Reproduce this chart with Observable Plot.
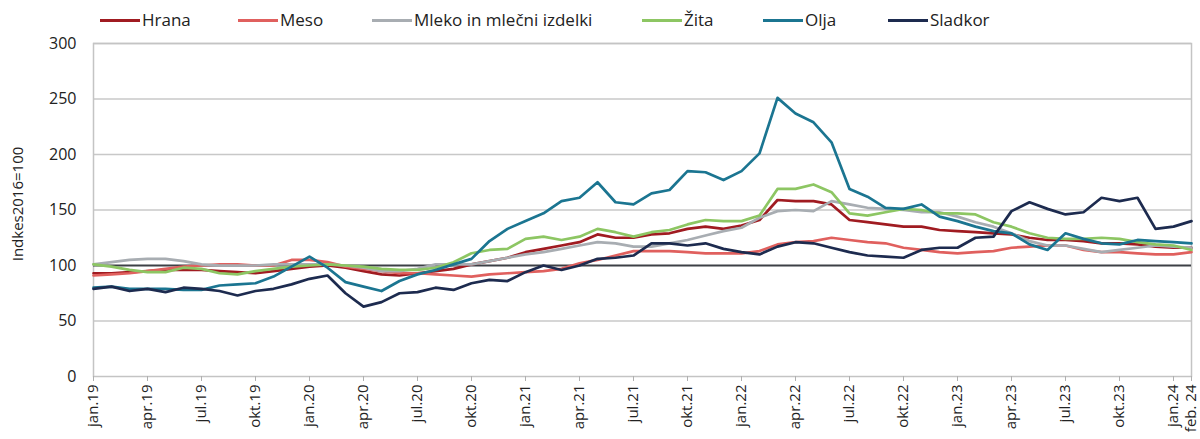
<!DOCTYPE html>
<html><head><meta charset="utf-8">
<script src="https://cdn.jsdelivr.net/npm/d3@7"></script>
<script src="https://cdn.jsdelivr.net/npm/@observablehq/plot@0.6"></script>
<style>
body{margin:0;background:#fff;font-family:"Open Sans",sans-serif;}
#legend{position:relative;height:30px;width:1200px;}
.item{position:absolute;top:7px;font-size:17px;line-height:26px;color:#222;display:flex;align-items:center;white-space:nowrap;}
.sw{display:inline-block;width:40px;height:3px;margin-right:2px;}
#chart svg{display:block;overflow:visible;}
</style></head><body>
<div id="legend"></div><div id="chart"></div>
<script>
const months = [
"jan.19","feb.19","mar.19","apr.19","maj.19","jun.19","jul.19","avg.19","sep.19","okt.19","nov.19","dec.19",
"jan.20","feb.20","mar.20","apr.20","maj.20","jun.20","jul.20","avg.20","sep.20","okt.20","nov.20","dec.20",
"jan.21","feb.21","mar.21","apr.21","maj.21","jun.21","jul.21","avg.21","sep.21","okt.21","nov.21","dec.21",
"jan.22","feb.22","mar.22","apr.22","maj.22","jun.22","jul.22","avg.22","sep.22","okt.22","nov.22","dec.22",
"jan.23","feb.23","mar.23","apr.23","maj.23","jun.23","jul.23","avg.23","sep.23","okt.23","nov.23","dec.23",
"jan.24","feb.24"];
const tickMonths = ["jan.19","apr.19","jul.19","okt.19","jan.20","apr.20","jul.20","okt.20","jan.21","apr.21","jul.21","okt.21","jan.22","apr.22","jul.22","okt.22","jan.23","apr.23","jul.23","okt.23","jan.24","feb.24"];
const tickLabels = ["jan.19","apr.19","jul.19","okt.19","jan.20","apr.20","jul.20","okt.20","jan.21","apr.21","jul.21","okt.21","jan.22","apr.22","jul.22","okt.22","jan.23","apr.23","jul.23","okt.23","jan.24","feb. 24"];
const yTicks = [0,50,100,150,200,250,300];

const hrana = [93,93,94,95,96,96,96,95,94,93,95,97,
  99,100,98,95,92,91,93,95,97,101,104,107,
  112,115,118,121,128,125,125,128,129,133,135,133,
  136,141,159,158,158,155,141,139,137,135,135,132,
  131,130,129,128,125,123,123,122,120,120,119,117,
  116,116];
const meso = [91,92,93,95,97,99,100,101,101,100,100,105,
  105,103,99,97,95,93,93,92,91,90,92,93,
  94,95,97,102,105,109,113,113,113,112,111,111,
  111,113,119,121,122,125,123,121,120,116,114,112,
  111,112,113,116,117,118,118,114,112,112,111,110,
  110,112];
const mleko = [101,103,105,106,106,104,101,100,100,100,101,101,
  101,101,100,98,95,95,97,101,101,101,104,107,
  110,112,115,118,121,120,117,117,120,123,127,131,
  134,143,149,150,149,158,155,152,151,150,148,148,
  144,139,135,129,122,118,118,115,112,114,116,118,
  117,116];
const zita = [101,99,96,94,94,98,97,93,92,95,97,99,
  100,101,100,99,97,96,96,98,103,111,114,115,
  124,126,123,126,133,130,126,130,132,137,141,140,
  140,145,169,169,173,166,147,145,148,151,150,147,
  147,146,139,135,129,125,124,124,125,124,121,119,
  118,114];
const olja = [80,81,79,79,79,78,78,82,83,84,90,99,
  108,98,85,81,77,86,92,96,101,106,122,133,
  140,147,158,161,175,157,155,165,168,185,184,177,
  185,201,251,237,229,211,169,162,152,151,155,144,
  140,135,131,129,119,114,129,124,120,119,123,122,
  121,120];
const sladkor = [79,81,77,79,76,80,79,77,73,77,79,83,
  88,91,75,63,67,75,76,80,78,84,87,86,
  94,100,96,100,106,107,109,120,120,118,120,115,
  112,110,117,121,120,116,112,109,108,107,114,116,
  116,125,126,149,157,151,146,148,161,158,161,133,
  135,140];

const seriesNames = ["Hrana","Meso","Mleko in mlečni izdelki","Žita","Olja","Sladkor"];
const seriesColors = ["#a01b21","#e0605e","#a8adb2","#8dc663","#1b7591","#1d2b4f"];
const seriesValues = [hrana, meso, mleko, zita, olja, sladkor];
const legendLeft = [100, 238, 372, 642, 763, 888];

// legend
const leg = document.getElementById("legend");
seriesNames.forEach((n, k) => {
  const d = document.createElement("div");
  d.className = "item";
  d.style.left = legendLeft[k] + "px";
  d.innerHTML = `<span class="sw" style="background:${seriesColors[k]}"></span><span>${n}</span>`;
  leg.appendChild(d);
});

const data = [];
seriesNames.forEach((n, k) => {
  seriesValues[k].forEach((v, i) => data.push({series: n, month: months[i], value: v}));
});

const lineMarks = seriesNames.map((n, k) =>
  Plot.line(data.filter(d => d.series === n), {x: "month", y: "value", stroke: seriesColors[k], strokeWidth: 2.7, strokeLinejoin: "round"})
);

const tickMap = new Map(tickMonths.map((m, i) => [m, tickLabels[i]]));

const chart = Plot.plot({
  width: 1200,
  height: 409,
  marginTop: 13,
  marginBottom: 63,
  marginLeft: 93,
  marginRight: 9,
  style: {fontFamily: "Open Sans, sans-serif", fontSize: "15px", background: "#fff", color: "#222", overflow: "visible"},
  x: {type: "point", domain: months, padding: 0},
  y: {domain: [0, 300]},
  marks: [
    Plot.ruleY([50, 150, 200, 250, 300], {stroke: "#c8c8c8", strokeWidth: 1.5}),
    Plot.frame({stroke: "#c4c4c4", strokeWidth: 1.5}),
    Plot.ruleY([100], {stroke: "#3d4046", strokeWidth: 2}),
    ...lineMarks,
    Plot.axisX({ticks: tickMonths, tickFormat: d => tickMap.get(d), tickRotate: -90, tickSize: 5, tickPadding: 3, stroke: "#b0b0b0", fill: "#222", fontSize: 15, label: null}),
    Plot.axisY({ticks: yTicks, tickSize: 0, tickPadding: 17, fontSize: 16, fill: "#222", label: null}),
    Plot.text(["Indkes2016=100"], {frameAnchor: "left", textAnchor: "middle", dx: -75, dy: -6, rotate: -90, fontSize: 15, fill: "#222"})
  ]
});
document.getElementById("chart").appendChild(chart);
</script>
</body></html>
